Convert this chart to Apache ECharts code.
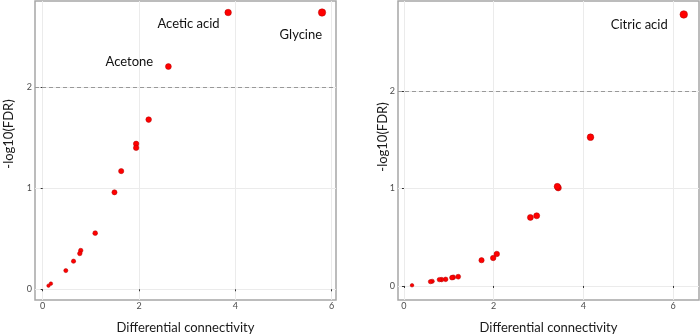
<!DOCTYPE html>
<html>
<head>
<meta charset="utf-8">
<script src="https://cdn.jsdelivr.net/npm/echarts@6/dist/echarts.min.js"></script>
<style>
  html, body { margin: 0; padding: 0; background: #fff; }
  #chart { width: 700px; height: 335px; }
</style>
</head>
<body>
<div id="chart"></div>
<script>
// left panel: differential connectivity vs -log10(FDR)
const leftX = [5.80, 3.85, 2.61, 2.20, 1.94, 1.94, 1.63, 1.49, 1.09, 0.79, 0.77, 0.64, 0.48, 0.17, 0.12];
const leftY = [2.74, 2.74, 2.205, 1.68, 1.44, 1.40, 1.17, 0.96, 0.556, 0.384, 0.354, 0.278, 0.185, 0.056, 0.036];
const leftNames = ['Glycine', 'Acetic acid', 'Acetone', '', '', '', '', '', '', '', '', '', '', '', ''];

// right panel
const rightX = [6.24, 4.16, 3.44, 3.42, 2.96, 2.82, 2.07, 1.99, 1.73, 1.21, 1.10, 1.07, 0.93, 0.84, 0.79, 0.63, 0.59, 0.18];
const rightY = [2.785, 1.526, 1.007, 1.02, 0.72, 0.703, 0.328, 0.287, 0.264, 0.095, 0.089, 0.085, 0.068, 0.065, 0.065, 0.048, 0.044, 0.007];
const rightNames = ['Citric acid', '', '', '', '', '', '', '', '', '', '', '', '', '', '', '', '', ''];

const xTicks = [0, 2, 4, 6];
const yTicks = [0, 1, 2];
const fdrCut = 2;
const xTitle = 'Differential connectivity';
const yTitle = '-log10(FDR)';

const font = 'Lato, "Open Sans", sans-serif';
const labelShift = {
    'Glycine': [9, 22],
    'Acetic acid': [0, 11],
    'Acetone': [-7, -5],
    'Citric acid': [-7, 10]
};

function makeData(xs, ys, names) {
    return xs.map(function(x, i) {
        let item = {name: names[i], value: [x, ys[i]]};
        if (names[i]) {
            item.label = {show: true, position: 'left', offset: labelShift[names[i]]};
        }
        return item;
    });
}

function xAxisFor(gridIndex, min, max) {
    return {
        gridIndex: gridIndex,
        type: 'value',
        min: min,
        max: max,
        name: xTitle,
        nameLocation: 'middle',
        nameGap: 21,
        nameTextStyle: {fontFamily: font, fontSize: 13, color: '#1a1a1a'},
        axisLine: {show: false},
        axisTick: {show: true, length: 2, customValues: xTicks, lineStyle: {color: '#333'}},
        axisLabel: {customValues: xTicks, fontFamily: font, fontSize: 9, color: '#4d4d4d', margin: 2},
        splitLine: {show: true, lineStyle: {color: '#ebebeb', width: 1}}
    };
}

function yAxisFor(gridIndex, min, max) {
    return {
        gridIndex: gridIndex,
        type: 'value',
        min: min,
        max: max,
        axisLine: {show: false},
        axisTick: {show: true, length: 2, customValues: yTicks, lineStyle: {color: '#333'}},
        axisLabel: {customValues: yTicks, fontFamily: font, fontSize: 9, color: '#4d4d4d', margin: 3},
        splitLine: {show: true, lineStyle: {color: '#ebebeb', width: 1}}
    };
}

function seriesFor(index, xs, ys, names) {
    return {
        type: 'scatter',
        xAxisIndex: index,
        yAxisIndex: index,
        data: makeData(xs, ys, names),
        symbolSize: function(value) {
            return 2.8 + 1.9 * Math.sqrt(value[0]);
        },
        itemStyle: {color: '#ff0000', borderColor: '#b00000', borderWidth: 0.5, opacity: 1},
        label: {
            show: false,
            formatter: '{b}',
            fontFamily: font,
            fontSize: 13,
            color: '#111'
        },
        emphasis: {disabled: true},
        markLine: {
            silent: true,
            symbol: 'none',
            label: {show: false},
            lineStyle: {type: [4, 3], color: '#999', width: 1},
            data: [{yAxis: fdrCut}]
        }
    };
}

// rotated y axis titles, centred on (x, y)
function yTitleText(x, y) {
    return {
        type: 'text', x: x, y: y, rotation: Math.PI / 2,
        style: {
            text: yTitle, fontFamily: font, fontSize: 13, fill: '#1a1a1a',
            align: 'center', verticalAlign: 'middle'
        }
    };
}

const chart = echarts.init(document.getElementById('chart'));
chart.setOption({
    animation: false,
    grid: [
        {left: 35, top: 1, width: 301, height: 299, show: true, borderColor: '#a6a6a6', borderWidth: 1.5,
            containLabel: false, outerBoundsMode: 'none'},
        {left: 398, top: 1, width: 301, height: 299, show: true, borderColor: '#a6a6a6', borderWidth: 1.5,
            containLabel: false, outerBoundsMode: 'none'}
    ],
    xAxis: [xAxisFor(0, -0.16, 6.09), xAxisFor(1, -0.133, 6.58)],
    yAxis: [yAxisFor(0, -0.106, 2.854), yAxisFor(1, -0.144, 2.923)],
    series: [seriesFor(0, leftX, leftY, leftNames), seriesFor(1, rightX, rightY, rightNames)],
    graphic: [yTitleText(9, 134), yTitleText(383, 137)]
});
</script>
</body>
</html>
